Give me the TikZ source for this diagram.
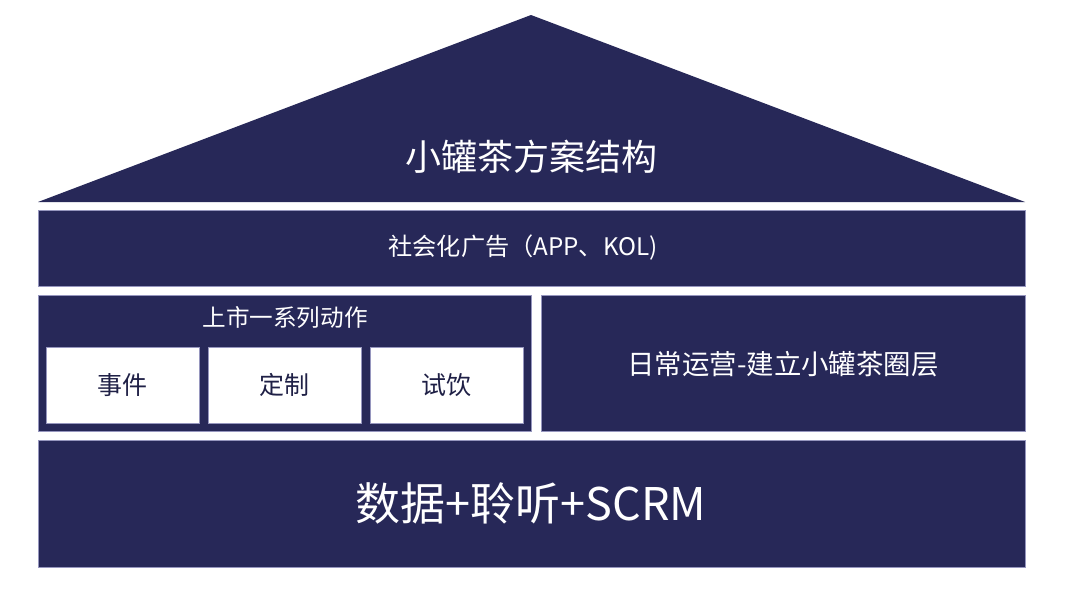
\documentclass[tikz,border=0pt]{standalone}
\usepackage{fontspec}
\setmainfont{Noto Sans CJK SC}
\newfontfamily\cjk{Noto Sans CJK SC}
\definecolor{navy}{RGB}{39,40,88}
\definecolor{edgeline}{RGB}{150,150,190}
\begin{document}
\begin{tikzpicture}[x=1pt,y=-1pt,
  block/.style={fill=navy,draw=edgeline,line width=0.4pt},
  wbox/.style={fill=white,draw=edgeline,line width=0.4pt},
  wtext/.style={text=white,font=\cjk,inner sep=0pt,anchor=center},
  btext/.style={text=navy!80!black,font=\cjk,inner sep=0pt,anchor=center}]
\useasboundingbox (0,0) rectangle (1080,608);
\fill[white] (0,0) rectangle (1080,608);
% roof
\fill[navy] (38,202) coordinate (rl) -- (531,15) coordinate (apex) -- (1025,202) coordinate (rr) -- cycle;
\node[wtext,font=\cjk\fontsize{36}{42}\selectfont] (title) at (531,157) {小罐茶方案结构};
% ad bar
\draw[block] (38,210) rectangle (1025,286);
\node[wtext,font=\cjk\fontsize{24.2}{28}\selectfont] (ad) at (523,248) {社会化广告（APP、KOL)};
% left box
\draw[block] (38,295) rectangle (531,431);
\node[wtext,font=\cjk\fontsize{23.6}{27}\selectfont] (launch) at (285,317) {上市一系列动作};
\draw[wbox] (46,347) rectangle (199,423);
\draw[wbox] (208,347) rectangle (361,423);
\draw[wbox] (370,347) rectangle (523,423);
\node[btext,font=\cjk\fontsize{25}{28}\selectfont] (e1) at (122.5,385) {事件};
\node[btext,font=\cjk\fontsize{25}{28}\selectfont] (e2) at (284.5,385) {定制};
\node[btext,font=\cjk\fontsize{25}{28}\selectfont] (e3) at (446.5,385) {试饮};
% right box
\draw[block] (541,295) rectangle (1025,431);
\node[wtext,font=\cjk\fontsize{27.4}{31}\selectfont] (daily) at (783,364) {日常运营-建立小罐茶圈层};
% bottom
\draw[block] (38,440) rectangle (1025,567);
\node[wtext,font=\cjk\fontsize{45}{52}\selectfont] (data) at (531,503) {数据+聆听+SCRM};
\end{tikzpicture}
\end{document}
